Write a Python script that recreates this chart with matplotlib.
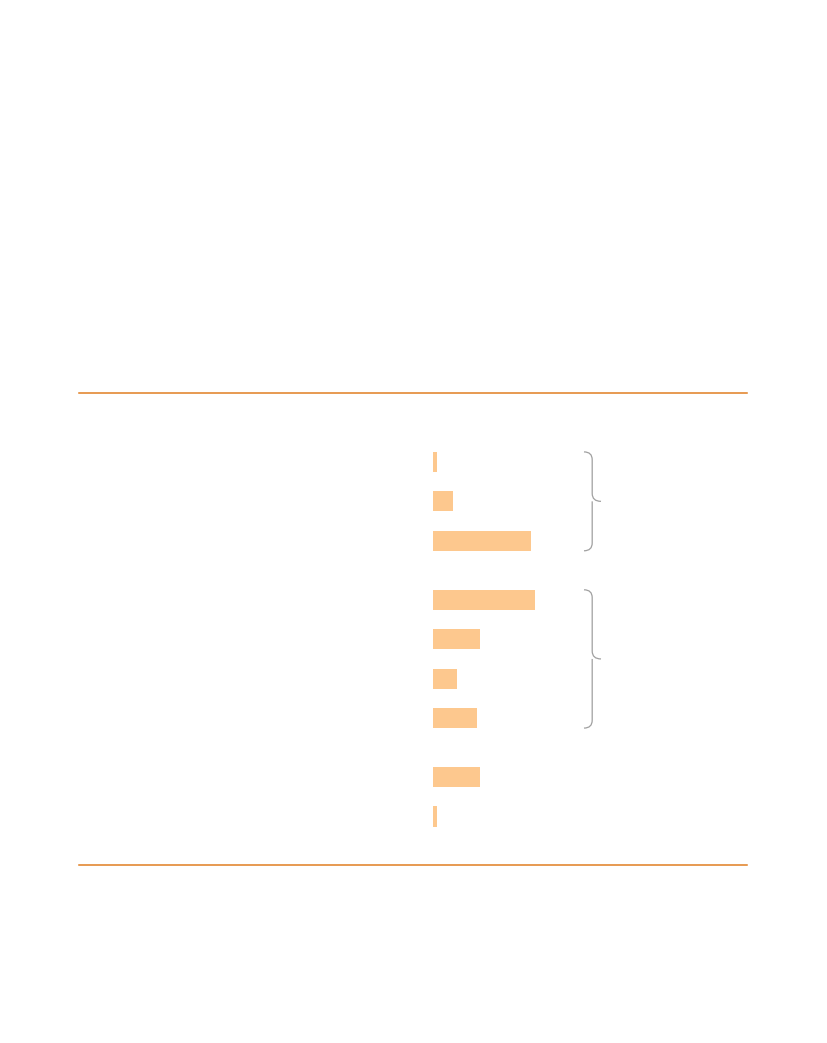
import matplotlib.pyplot as plt
from matplotlib.path import Path
from matplotlib.patches import PathPatch

# bar values (arbitrary units)
values = [1, 5, 24.5, 25.5, 11.8, 6, 11, 11.8, 1]
# row positions: three groups, separated by an extra half step
positions = [0, 1, 2, 3.5, 4.5, 5.5, 6.5, 8, 9]
# rows covered by each brace (first, last)
brace_groups = [(0, 2), (3.5, 6.5)]

bar_color = '#FDC88E'
rule_color = '#E07E22'
brace_color = '#A0A0A0'


def draw_brace(ax, y_first, y_last, half=0.255):
    """Right-hand curly brace spanning rows y_first..y_last."""
    x0, xs, xt = 37.75, 39.8, 42.0
    r = 0.2
    ytop = y_first - half
    ybot = y_last + half
    ymid = (ytop + ybot) / 2
    verts = [
        (x0, ytop), (xs, ytop), (xs, ytop + r),
        (xs, ymid - r),
        (xs, ymid), (xt, ymid),
        (xs, ymid), (xs, ymid + r),
        (xs, ybot - r),
        (xs, ybot), (x0, ybot),
    ]
    codes = [Path.MOVETO, Path.CURVE3, Path.CURVE3,
             Path.LINETO,
             Path.CURVE3, Path.CURVE3,
             Path.MOVETO, Path.CURVE3,
             Path.LINETO,
             Path.CURVE3, Path.CURVE3]
    ax.add_patch(PathPatch(Path(verts, codes), facecolor='none',
                           edgecolor=brace_color, linewidth=0.9))


fig = plt.figure(figsize=(8.27, 10.43), dpi=100)
ax = fig.add_axes([79 / 827, 178 / 1043, 668 / 827, 472 / 1043])

ax.barh(positions, values, height=0.51, color=bar_color, linewidth=0)

for first, last in brace_groups:
    draw_brace(ax, first, last)

ax.set_xlim(-88.5, 78.5)
ax.set_ylim(10.23, -1.75)

for side in ['left', 'right']:
    ax.spines[side].set_visible(False)
for side in ['top', 'bottom']:
    ax.spines[side].set_color(rule_color)
    ax.spines[side].set_linewidth(1.1)
ax.set_xticks([])
ax.set_yticks([])

fig.savefig('out.png', dpi=100)
